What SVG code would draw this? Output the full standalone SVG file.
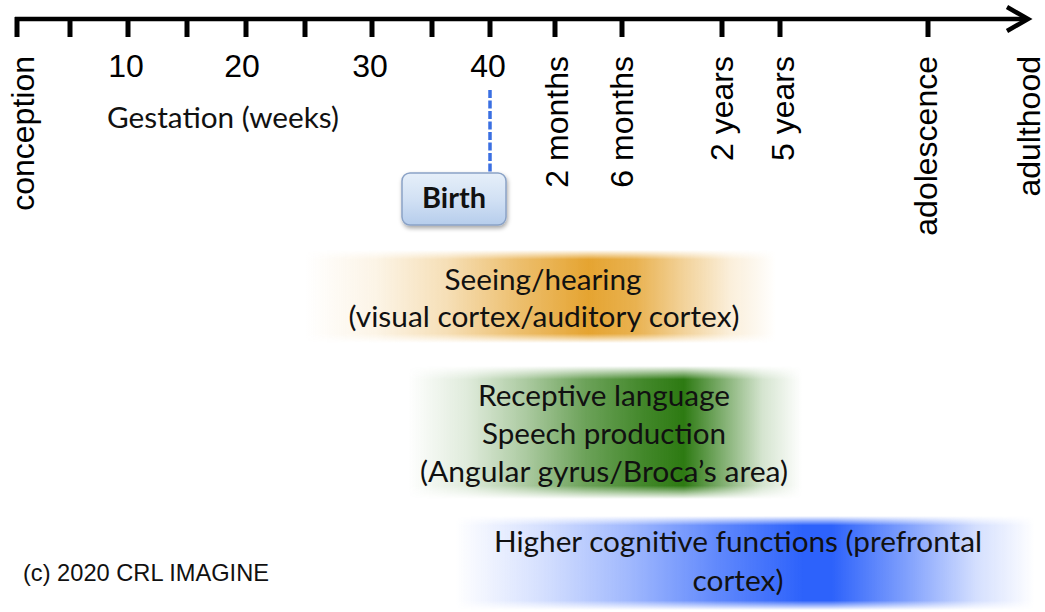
<svg xmlns="http://www.w3.org/2000/svg" width="1045" height="612" viewBox="0 0 1045 612">
<defs>
<style>
.axis{stroke:#000;stroke-width:4.5;fill:none}
.tick{stroke:#000;stroke-width:5}
.lbl{font-family:"Liberation Sans",Arial,sans-serif;font-size:32px;fill:#000}
.cal{font-family:Lato,"Open Sans",sans-serif;font-size:29px;fill:#111}
.birth{font-family:Lato,"Open Sans",sans-serif;font-size:29px;font-weight:bold;fill:#111}
.copy{font-family:"Liberation Sans",Arial,sans-serif;font-size:24px;fill:#111}
.dash{stroke:#3a6fe2;stroke-width:3.5;stroke-dasharray:8 2.5;fill:none}
</style>
<linearGradient id="gOrange" x1="0" y1="0" x2="1" y2="0">
<stop offset="0" stop-color="#e5a431" stop-opacity="0"/>
<stop offset="0.15" stop-color="#e5a431" stop-opacity="0.12"/>
<stop offset="0.3" stop-color="#e5a431" stop-opacity="0.35"/>
<stop offset="0.45" stop-color="#e5a431" stop-opacity="0.7"/>
<stop offset="0.6" stop-color="#e5a431" stop-opacity="1"/>
<stop offset="0.7" stop-color="#e5a431" stop-opacity="0.85"/>
<stop offset="0.8" stop-color="#e5a431" stop-opacity="0.5"/>
<stop offset="0.9" stop-color="#e5a431" stop-opacity="0.18"/>
<stop offset="1" stop-color="#e5a431" stop-opacity="0"/>
</linearGradient>
<linearGradient id="gGreen" x1="0" y1="0" x2="1" y2="0">
<stop offset="0" stop-color="#2d7a12" stop-opacity="0"/>
<stop offset="0.15" stop-color="#2d7a12" stop-opacity="0.15"/>
<stop offset="0.3" stop-color="#2d7a12" stop-opacity="0.4"/>
<stop offset="0.45" stop-color="#2d7a12" stop-opacity="0.7"/>
<stop offset="0.6" stop-color="#2d7a12" stop-opacity="0.9"/>
<stop offset="0.7" stop-color="#2d7a12" stop-opacity="1"/>
<stop offset="0.8" stop-color="#2d7a12" stop-opacity="0.6"/>
<stop offset="0.9" stop-color="#2d7a12" stop-opacity="0.2"/>
<stop offset="1" stop-color="#2d7a12" stop-opacity="0"/>
</linearGradient>
<linearGradient id="gBlue" x1="0" y1="0" x2="1" y2="0">
<stop offset="0" stop-color="#2d62fb" stop-opacity="0"/>
<stop offset="0.15" stop-color="#2d62fb" stop-opacity="0.2"/>
<stop offset="0.3" stop-color="#2d62fb" stop-opacity="0.45"/>
<stop offset="0.45" stop-color="#2d62fb" stop-opacity="0.75"/>
<stop offset="0.6" stop-color="#2d62fb" stop-opacity="1"/>
<stop offset="0.65" stop-color="#2d62fb" stop-opacity="1"/>
<stop offset="0.78" stop-color="#2d62fb" stop-opacity="0.6"/>
<stop offset="0.9" stop-color="#2d62fb" stop-opacity="0.2"/>
<stop offset="1" stop-color="#2d62fb" stop-opacity="0"/>
</linearGradient>
<linearGradient id="vfade" x1="0" y1="0" x2="0" y2="1">
<stop offset="0" stop-color="#fff" stop-opacity="0"/>
<stop offset="0.1" stop-color="#fff" stop-opacity="1"/>
<stop offset="0.9" stop-color="#fff" stop-opacity="1"/>
<stop offset="1" stop-color="#fff" stop-opacity="0"/>
</linearGradient>
<mask id="bandMask" maskContentUnits="objectBoundingBox">
<rect x="0" y="0" width="1" height="1" fill="url(#vfade)"/>
</mask>
<linearGradient id="gBirth" x1="0" y1="0" x2="0" y2="1">
<stop offset="0" stop-color="#e6eff9"/>
<stop offset="0.5" stop-color="#d2e1f4"/>
<stop offset="1" stop-color="#b6cdec"/>
</linearGradient>
<filter id="shadow" x="-20%" y="-20%" width="140%" height="150%">
<feDropShadow dx="1" dy="2.5" stdDeviation="2" flood-color="#000" flood-opacity="0.35"/>
</filter>
</defs>

<rect width="1045" height="612" fill="#fff"/>

<g id="axis">
<line class="axis" x1="15" y1="19" x2="1026" y2="19"/>
<polyline class="axis" points="1007,7 1028,19 1007,31" stroke-linejoin="miter" stroke-width="5"/>
<g id="ticks">
<line class="tick" x1="17" y1="17" x2="17" y2="37"/>
<line class="tick" x1="70" y1="17" x2="70" y2="37"/>
<line class="tick" x1="128" y1="17" x2="128" y2="37"/>
<line class="tick" x1="187" y1="17" x2="187" y2="37"/>
<line class="tick" x1="246" y1="17" x2="246" y2="37"/>
<line class="tick" x1="305" y1="17" x2="305" y2="37"/>
<line class="tick" x1="372" y1="17" x2="372" y2="37"/>
<line class="tick" x1="432" y1="17" x2="432" y2="37"/>
<line class="tick" x1="490" y1="17" x2="490" y2="37"/>
<line class="tick" x1="555" y1="17" x2="555" y2="37"/>
<line class="tick" x1="622" y1="17" x2="622" y2="37"/>
<line class="tick" x1="722" y1="17" x2="722" y2="37"/>
<line class="tick" x1="780" y1="17" x2="780" y2="37"/>
<line class="tick" x1="928" y1="17" x2="928" y2="37"/>
</g>
<g id="week-labels">
<text class="lbl" x="126" y="77" text-anchor="middle">10</text>
<text class="lbl" x="242" y="77" text-anchor="middle">20</text>
<text class="lbl" x="370" y="77" text-anchor="middle">30</text>
<text class="lbl" x="488" y="77" text-anchor="middle">40</text>
<text class="cal" x="107" y="128" textLength="232" lengthAdjust="spacingAndGlyphs">Gestation (weeks)</text>
</g>
<g id="age-labels">
<text class="lbl" transform="translate(33.5,56) rotate(-90)" text-anchor="end">conception</text>
<text class="lbl" transform="translate(568,56) rotate(-90)" text-anchor="end">2 months</text>
<text class="lbl" transform="translate(633,56) rotate(-90)" text-anchor="end">6 months</text>
<text class="lbl" transform="translate(733,56) rotate(-90)" text-anchor="end">2 years</text>
<text class="lbl" transform="translate(794,56) rotate(-90)" text-anchor="end">5 years</text>
<text class="lbl" transform="translate(937,56) rotate(-90)" text-anchor="end">adolescence</text>
<text class="lbl" transform="translate(1040,56) rotate(-90)" text-anchor="end">adulthood</text>
</g>
</g>

<g id="connectors">
<line class="dash" x1="490" y1="90" x2="490" y2="173"/>
</g>

<g id="birth">
<rect x="402" y="173" width="104" height="52" rx="8" ry="8" fill="url(#gBirth)" stroke="#8aa2c6" stroke-width="1.5" filter="url(#shadow)"/>
<text class="birth" x="454" y="208" text-anchor="middle" textLength="64" lengthAdjust="spacingAndGlyphs">Birth</text>
</g>

<g id="band-seeing">
<rect x="305" y="250" width="472" height="93" fill="url(#gOrange)" mask="url(#bandMask)"/>
<text class="cal" x="543" y="290" text-anchor="middle" textLength="197" lengthAdjust="spacingAndGlyphs">Seeing/hearing</text>
<text class="cal" x="544" y="327" text-anchor="middle" textLength="391" lengthAdjust="spacingAndGlyphs">(visual cortex/auditory cortex)</text>
</g>

<g id="band-language">
<rect x="408" y="366" width="394" height="133" fill="url(#gGreen)" mask="url(#bandMask)"/>
<text class="cal" x="604" y="406" text-anchor="middle" textLength="252" lengthAdjust="spacingAndGlyphs">Receptive language</text>
<text class="cal" x="604" y="444" text-anchor="middle" textLength="244" lengthAdjust="spacingAndGlyphs">Speech production</text>
<text class="cal" x="604" y="482" text-anchor="middle" textLength="368" lengthAdjust="spacingAndGlyphs">(Angular gyrus/Broca’s area)</text>
</g>

<g id="band-cognitive">
<rect x="455" y="516" width="580" height="94" fill="url(#gBlue)" mask="url(#bandMask)"/>
<text class="cal" x="738" y="552" text-anchor="middle" textLength="488" lengthAdjust="spacingAndGlyphs">Higher cognitive functions (prefrontal</text>
<text class="cal" x="738" y="591" text-anchor="middle" textLength="91" lengthAdjust="spacingAndGlyphs">cortex)</text>
</g>

<g id="copyright">
<text class="copy" x="23" y="581" textLength="246" lengthAdjust="spacingAndGlyphs">(c) 2020 CRL IMAGINE</text>
</g>
</svg>
